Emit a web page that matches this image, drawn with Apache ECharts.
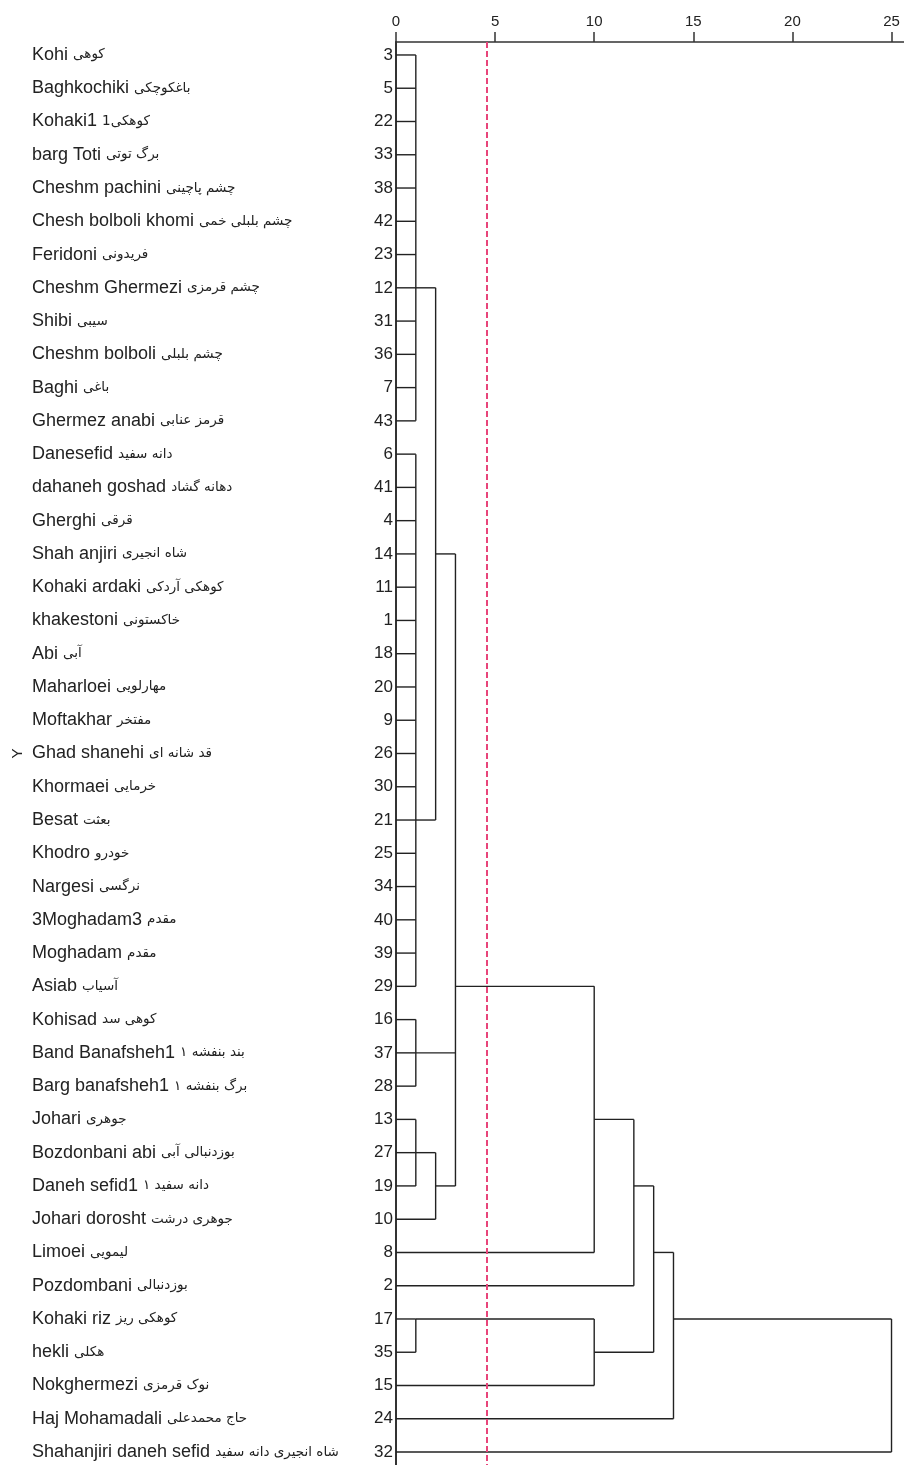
<!DOCTYPE html>
<html>
<head>
<meta charset="utf-8">
<script src="https://cdn.jsdelivr.net/npm/echarts@6/dist/echarts.min.js"></script>
<style>
  html, body { margin: 0; padding: 0; background: #ffffff; }
  #chart { width: 904px; height: 1465px; }
</style>
</head>
<body>
<div id="chart"></div>
<script>
// Leaves in dendrogram order (top to bottom)
const caseNumbers = [3, 5, 22, 33, 38, 42, 23, 12, 31, 36, 7, 43, 6, 41, 4, 14, 11, 1, 18, 20, 9, 26, 30, 21, 25, 34, 40, 39, 29, 16, 37, 28, 13, 27, 19, 10, 8, 2, 17, 35, 15, 24, 32];

const latinNames = [
  'Kohi', 'Baghkochiki', 'Kohaki1', 'barg Toti', 'Cheshm pachini', 'Chesh bolboli khomi',
  'Feridoni', 'Cheshm Ghermezi', 'Shibi', 'Cheshm bolboli', 'Baghi', 'Ghermez anabi',
  'Danesefid', 'dahaneh goshad', 'Gherghi', 'Shah anjiri', 'Kohaki ardaki', 'khakestoni',
  'Abi', 'Maharloei', 'Moftakhar', 'Ghad shanehi', 'Khormaei', 'Besat', 'Khodro', 'Nargesi',
  '3Moghadam3', 'Moghadam', 'Asiab', 'Kohisad', 'Band Banafsheh1', 'Barg banafsheh1',
  'Johari', 'Bozdonbani abi', 'Daneh sefid1', 'Johari dorosht', 'Limoei', 'Pozdombani',
  'Kohaki riz', 'hekli', 'Nokghermezi', 'Haj Mohamadali', 'Shahanjiri daneh sefid'
];

const persianNames = [
  'کوهی', 'باغکوچکی', 'کوهکی1', 'برگ توتی', 'چشم پاچینی', 'چشم بلبلی خمی',
  'فریدونی', 'چشم قرمزی', 'سیبی', 'چشم بلبلی', 'باغی', 'قرمز عنابی',
  'دانه سفید', 'دهانه گشاد', 'قرقی', 'شاه انجیری', 'کوهکی آردکی', 'خاکستونی',
  'آبی', 'مهارلویی', 'مفتخر', 'قد شانه ای', 'خرمایی', 'بعثت', 'خودرو', 'نرگسی',
  'مقدم', 'مقدم', 'آسیاب', 'کوهی سد', 'بند بنفشه ۱', 'برگ بنفشه ۱',
  'جوهری', 'بوزدنبالی آبی', 'دانه سفید ۱', 'جوهری درشت', 'لیمویی', 'بوزدنبالی',
  'کوهکی ریز', 'هکلی', 'نوک قرمزی', 'حاج محمدعلی', 'شاه انجیری دانه سفید'
];

// Merges: [cluster id, members (leaf rows or cluster ids), rescaled distance, row of its connector]
const merges = [
  ['A',  [0, 1, 2, 3, 4, 5, 6, 7, 8, 9, 10, 11], 1, 7],
  ['B',  [12, 13, 14, 15, 16, 17, 18, 19, 20, 21, 22, 23, 24, 25, 26, 27, 28], 1, 23],
  ['AB', ['A', 'B'], 2, 15],
  ['C',  [29, 30, 31], 1, 30],
  ['D1', [32, 33, 34], 1, 33],
  ['D',  ['D1', 35], 2, 34],
  ['E',  ['AB', 'C', 'D'], 3, 28],
  ['F',  ['E', 36], 10, 32],
  ['G',  ['F', 37], 12, 34],
  ['H1', [38, 39], 1, 38],
  ['H',  ['H1', 40], 10, 39],
  ['I',  ['G', 'H'], 13, 36],
  ['J',  ['I', 41], 14, 38],
  ['K',  ['J', 42], 25, 40]
];

const distanceTicks = [0, 5, 10, 15, 20, 25];
const cutLevel = 4.59;

// Turn the merge list into line segments [x1, y1, x2, y2] in (distance, row) space
const nodes = {};
const segments = [];
function nodeOf(c) {
  return typeof c === 'number' ? { h: 0, row: c } : nodes[c];
}
merges.forEach(([id, members, h, row]) => {
  const rows = members.map(c => nodeOf(c).row);
  segments.push([h, Math.min(...rows), h, Math.max(...rows)]);
  members.forEach(c => {
    const n = nodeOf(c);
    segments.push([n.h, n.row, h, n.row]);
  });
  nodes[id] = { h: h, row: row };
});

const leafRows = caseNumbers.map((_, i) => i);
const latinFont = '"Liberation Sans", Arial, sans-serif';
const persianFont = '"DejaVu Sans", sans-serif';

const chart = echarts.init(document.getElementById('chart'), null, { renderer: 'canvas' });

const yRange = { min: -0.39, max: 42.39 };

chart.setOption({
  animation: false,
  backgroundColor: '#ffffff',
  grid: { left: 396, right: 0, top: 42, bottom: 0, containLabel: false, outerBoundsMode: 'none' },
  xAxis: {
    type: 'value',
    position: 'top',
    min: 0,
    max: 25.63,
    axisLine: { show: true, onZero: false, lineStyle: { color: '#333333', width: 1.5 } },
    axisTick: { show: true, length: 10, customValues: distanceTicks, lineStyle: { color: '#333333', width: 1.5 } },
    axisLabel: {
      customValues: distanceTicks,
      fontSize: 15, color: '#222222', margin: 13, fontFamily: latinFont
    },
    splitLine: { show: false }
  },
  yAxis: [
    {
      type: 'value',
      position: 'left',
      inverse: true,
      min: yRange.min,
      max: yRange.max,
      name: 'Y',
      nameLocation: 'middle',
      nameGap: 371,
      nameRotate: 90,
      nameTextStyle: { fontSize: 15, color: '#222222', fontFamily: latinFont },
      axisLine: { show: true, onZero: false, lineStyle: { color: '#333333', width: 2 } },
      axisTick: { show: false },
      splitLine: { show: false },
      axisLabel: {
        customValues: leafRows,
        formatter: v => String(caseNumbers[v]),
        fontSize: 17, color: '#222222', margin: 3, fontFamily: latinFont
      }
    },
    {
      type: 'value',
      position: 'left',
      offset: 0,
      inverse: true,
      min: yRange.min,
      max: yRange.max,
      axisLine: { show: false, onZero: false },
      axisTick: { show: false },
      splitLine: { show: false },
      axisLabel: {
        customValues: leafRows,
        align: 'left',
        margin: 364,
        formatter: v => '{en|' + latinNames[v] + ' }{fa|' + persianNames[v] + '}',
        rich: {
          en: { fontSize: 18, color: '#222222', fontFamily: latinFont },
          fa: { fontSize: 13.5, color: '#222222', fontFamily: persianFont }
        }
      }
    }
  ],
  series: [
    {
      type: 'custom',
      xAxisIndex: 0,
      yAxisIndex: 0,
      data: segments,
      encode: { x: [0, 2], y: [1, 3] },
      renderItem: function (params, api) {
        const p1 = api.coord([api.value(0), api.value(1)]);
        const p2 = api.coord([api.value(2), api.value(3)]);
        return {
          type: 'line',
          shape: { x1: p1[0], y1: p1[1], x2: p2[0], y2: p2[1] },
          style: { stroke: '#222222', lineWidth: 1.4 }
        };
      },
      markLine: {
        silent: true,
        symbol: 'none',
        label: { show: false },
        lineStyle: { color: '#e8457a', width: 2, type: [6, 3] },
        data: [{ xAxis: cutLevel }]
      }
    }
  ]
});
</script>
</body>
</html>
